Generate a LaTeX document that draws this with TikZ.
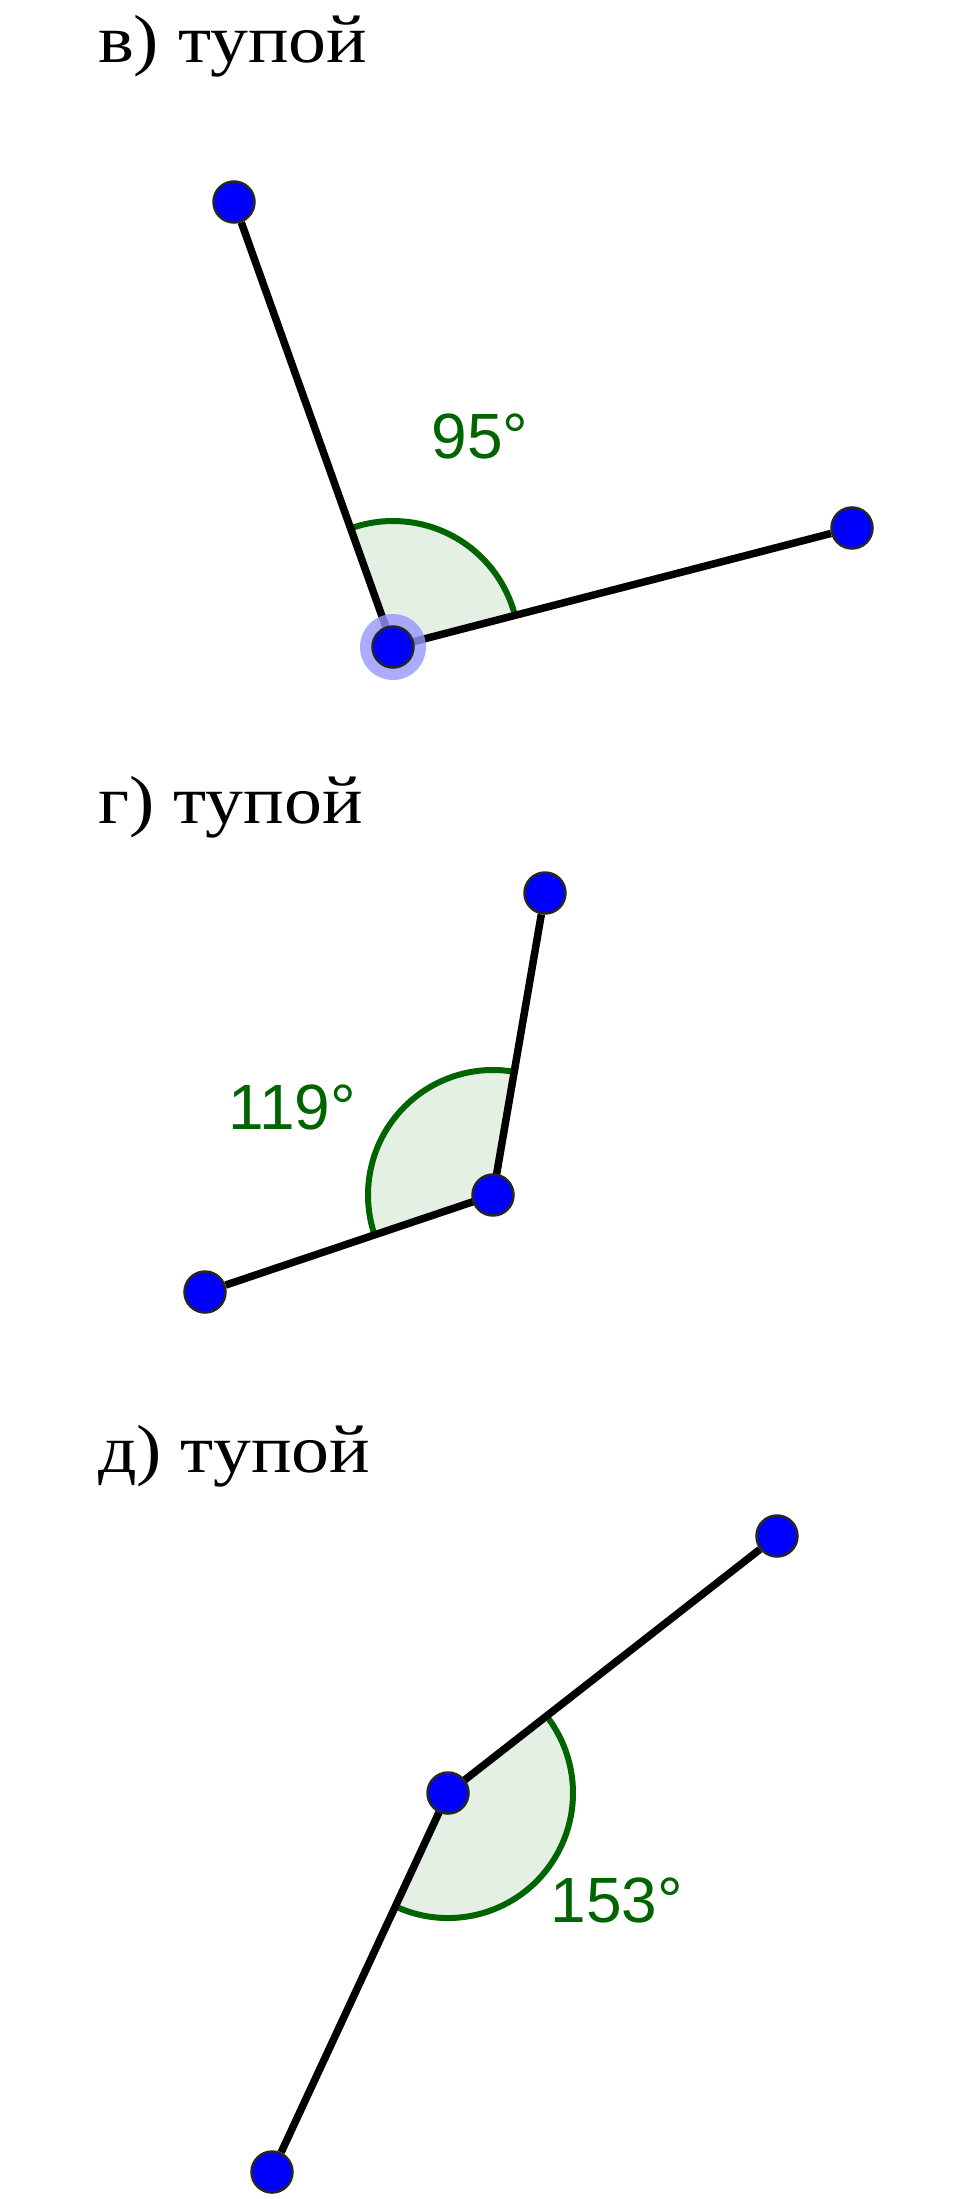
\documentclass[tikz,border=0pt]{standalone}
\usepackage{fontspec}
\setmainfont{Liberation Serif}
\newfontfamily\degfont{Liberation Sans}
\usepackage{xcolor}
\usepackage{tikz}
\usetikzlibrary{backgrounds}
\definecolor{ggblue}{RGB}{0,0,255}
\definecolor{gggreen}{RGB}{0,100,0}
\definecolor{ggfill}{RGB}{229,240,229}
\definecolor{gghalo}{RGB}{150,150,255}
\newcommand{\wide}[1]{\scalebox{1.115}[1]{#1}}
\tikzstyle{dot} = [circle, draw=black!85, line width=2.5pt, fill=ggblue, minimum size=41pt, inner sep=0pt]
\tikzstyle{halo} = [circle, fill=gghalo, fill opacity=0.8, minimum size=66pt, inner sep=0pt]
\tikzstyle{seg} = [draw, line width=7.5pt]
\tikzstyle{sector} = [fill=ggfill]
\tikzstyle{arcline} = [draw=gggreen, line width=6pt]
\tikzstyle{title} = [anchor=base west, inner sep=0pt, font=\fontsize{68}{76}\selectfont]
\tikzstyle{deg} = [text=gggreen, inner sep=0pt, font=\degfont\fontsize{64}{70}\selectfont]

\begin{document}
\begin{tikzpicture}[x=1pt,y=1pt]
  \useasboundingbox (0,0) rectangle (960,-2199);

  % v)
  \node [title] (t1) at (98,-63) {\wide{в) тупой}};
  \node [halo] (h1) at (393,-647) {};
  \node [dot] (v1) at (393,-647) {};
  \node [dot] (a1) at (234,-202) {};
  \node [dot] (b1) at (852,-528) {};
  \node [deg] (d1) at (480,-436) {95°};

  % g)
  \node [title] (t2) at (98,-823) {\wide{г) тупой}};
  \node [dot] (v2) at (493,-1195) {};
  \node [dot] (a2) at (545,-893) {};
  \node [dot] (b2) at (205,-1292) {};
  \node [deg] (d2) at (292,-1107) {119°};

  % d)
  \node [title] (t3) at (98,-1472) {\wide{д) тупой}};
  \node [dot] (v3) at (448,-1793) {};
  \node [dot] (a3) at (777,-1536) {};
  \node [dot] (b3) at (272,-2172) {};
  \node [deg] (d3) at (617,-1900) {153°};

  \begin{pgfonlayer}{background}
    \path [sector] (v1.center) -- ++(14.7:126) arc[start angle=14.7, end angle=109.7, radius=126] -- cycle;
    \path [arcline] (v1.center) ++(14.7:126) arc[start angle=14.7, end angle=109.7, radius=126];
    \path [sector] (v2.center) -- ++(80.2:125) arc[start angle=80.2, end angle=198.6, radius=125] -- cycle;
    \path [arcline] (v2.center) ++(80.2:125) arc[start angle=80.2, end angle=198.6, radius=125];
    \path [sector] (v3.center) -- ++(-114.9:125) arc[start angle=-114.9, end angle=38, radius=125] -- cycle;
    \path [arcline] (v3.center) ++(-114.9:125) arc[start angle=-114.9, end angle=38, radius=125];

    \path [seg] (a1) -- (v1.center) -- (b1);
    \path [seg] (a2) -- (v2.center) -- (b2);
    \path [seg] (a3) -- (v3.center) -- (b3);
  \end{pgfonlayer}
\end{tikzpicture}
\end{document}
